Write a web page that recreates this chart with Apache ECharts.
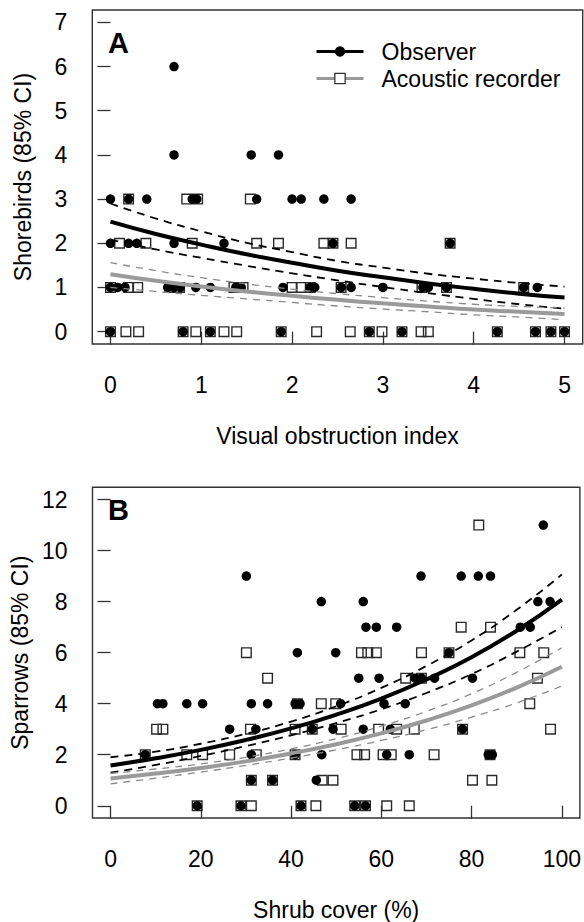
<!DOCTYPE html>
<html><head><meta charset="utf-8">
<script src="https://cdn.jsdelivr.net/npm/echarts@6/dist/echarts.min.js"></script>
<style>html,body{margin:0;padding:0;background:#fff}#c{width:584px;height:922px}</style>
</head><body><div id="c"></div>
<script>
const FONT = "'Liberation Sans', Arial, Helvetica, sans-serif";

// ---------- Panel A : Shorebirds vs Visual obstruction index ----------
const ticksAx = [0, 1, 2, 3, 4, 5];
const ticksAy = [0, 1, 2, 3, 4, 5, 6, 7];
const obsA = [
  [0.0,0],[0.80,0],[1.10,0],[1.88,0],[2.85,0],[3.21,0],[4.26,0],[4.68,0],[4.85,0],[5.0,0],
  [0.0,1],[0.08,1],[0.16,1],[0.63,1],[0.70,1],[0.77,1],[0.94,1],[1.10,1],[1.38,1],[1.44,1],[1.90,1],
  [2.20,1],[2.25,1],[2.54,1],[2.65,1],[3.0,1],[3.44,1],[3.50,1],[3.70,1],[4.55,1],[4.70,1],
  [0.0,2],[0.20,2],[0.29,2],[0.70,2],[1.25,2],[2.45,2],[3.74,2],
  [0.0,3],[0.20,3],[0.40,3],[0.90,3],[0.95,3],[1.61,3],[2.0,3],[2.10,3],[2.35,3],[2.65,3],
  [0.70,4],[1.55,4],[1.85,4],
  [0.70,6]
];
const acA = [
  [0.0,0],[0.17,0],[0.31,0],[0.80,0],[0.94,0],[1.10,0],[1.25,0],[1.39,0],[1.88,0],[2.27,0],
  [2.64,0],[2.85,0],[2.99,0],[3.21,0],[3.42,0],[3.50,0],[4.26,0],[4.68,0],[4.85,0],[5.0,0],
  [0.0,1],[0.20,1],[0.30,1],[0.65,1],[0.76,1],[1.36,1],[1.46,1],[2.0,1],[2.10,1],[2.20,1],
  [2.54,1],[3.43,1],[3.70,1],[4.55,1],
  [0.10,2],[0.39,2],[0.90,2],[1.61,2],[1.85,2],[2.35,2],[2.45,2],[2.65,2],[3.74,2],
  [0.20,3],[0.84,3],[0.96,3],[1.54,3]
];
const curveAx = [0, 0.5, 1, 1.5, 2, 2.5, 3, 3.5, 4, 4.5, 5];
const obsFitA = [2.49, 2.21, 1.97, 1.75, 1.56, 1.38, 1.23, 1.09, 0.97, 0.86, 0.77];
const obsUpA  = [2.90, 2.56, 2.27, 2.01, 1.80, 1.60, 1.45, 1.31, 1.20, 1.10, 1.02];
const obsLoA  = [2.08, 1.86, 1.67, 1.49, 1.32, 1.16, 1.01, 0.87, 0.74, 0.62, 0.52];
const acFitA  = [1.30, 1.15, 1.02, 0.91, 0.81, 0.72, 0.64, 0.57, 0.50, 0.45, 0.40];
const acUpA   = [1.56, 1.38, 1.22, 1.08, 0.96, 0.86, 0.77, 0.69, 0.62, 0.57, 0.53];
const acLoA   = [1.00, 0.91, 0.82, 0.74, 0.66, 0.58, 0.51, 0.45, 0.38, 0.33, 0.27];

// ---------- Panel B : Sparrows vs Shrub cover ----------
const ticksBx = [0, 20, 40, 60, 80, 100];
const ticksBy = [0, 2, 4, 6, 8, 10, 12];
const obsB = [
  [19.2,0],[28.9,0],[42.2,0],[54.1,0],[56.5,0],
  [31.2,1],[35.9,1],[45.6,1],
  [7.7,2],[31.2,2],[40.9,2],[46.8,2],[61.2,2],[66.2,2],[83.7,2],[84.6,2],
  [26.4,3],[32.2,3],[44.7,3],[49.3,3],[56.0,3],[62.0,3],[78.0,3],
  [10.4,4],[11.6,4],[16.9,4],[20.4,4],[31.2,4],[34.8,4],[40.9,4],[42.0,4],[51.0,4],[60.6,4],[65.3,4],
  [55.0,5],[59.5,5],[67.5,5],[68.9,5],[71.8,5],[80.2,5],
  [41.4,6],[49.9,6],[75.0,6],
  [56.6,7],[58.9,7],[63.4,7],[90.8,7],[93.0,7],
  [46.7,8],[56.0,8],[94.7,8],[97.4,8],
  [30.1,9],[68.8,9],[77.7,9],[81.5,9],[84.2,9],
  [95.9,11]
];
const acB = [
  [19.2,0],[28.9,0],[31.2,0],[42.2,0],[45.5,0],[54.1,0],[56.5,0],[61.2,0],[66.2,0],
  [31.2,1],[35.9,1],[46.9,1],[49.3,1],[80.2,1],[84.5,1],
  [7.7,2],[16.9,2],[20.4,2],[26.4,2],[32.3,2],[40.9,2],[54.6,2],[56.3,2],[60.4,2],[62.2,2],[71.7,2],[84.1,2],
  [10.2,3],[11.6,3],[31.0,3],[40.9,3],[44.7,3],[51.1,3],[59.4,3],[63.4,3],[67.3,3],[78.0,3],[97.5,3],
  [41.4,4],[46.7,4],[49.9,4],[92.9,4],
  [34.8,5],[65.4,5],[68.9,5],[94.6,5],
  [30.1,6],[55.6,6],[57.0,6],[58.9,6],[68.9,6],[75.0,6],[90.7,6],[96.0,6],
  [77.7,7],[84.2,7],
  [81.6,11]
];
const curveBx = [0, 10, 20, 30, 40, 50, 60, 70, 80, 90, 100];
const obsFitB = [1.58, 1.86, 2.19, 2.58, 3.03, 3.57, 4.20, 4.95, 5.82, 6.86, 8.08];
const obsUpB  = [1.90, 2.12, 2.43, 2.82, 3.30, 3.90, 4.62, 5.48, 6.48, 7.68, 9.06];
const obsLoB  = [1.30, 1.60, 1.95, 2.34, 2.76, 3.24, 3.78, 4.42, 5.16, 6.04, 7.00];
const acFitB  = [1.07, 1.26, 1.48, 1.74, 2.05, 2.41, 2.84, 3.34, 3.93, 4.63, 5.45];
const acUpB   = [1.27, 1.44, 1.64, 1.90, 2.23, 2.63, 3.12, 3.70, 4.39, 5.23, 6.19];
const acLoB   = [0.86, 1.08, 1.32, 1.58, 1.87, 2.19, 2.56, 2.98, 3.47, 4.03, 4.69];

const legendNames = ['Observer', 'Acoustic recorder'];

function pairs(xs, ys) { return xs.map((x, i) => [x, ys[i]]); }

const AXC = '#333';
const txt = { fontSize: 23, color: '#000', fontFamily: FONT };

function xAxisDef(g, min, max, ticks, name) {
  return {
    gridIndex: g, type: 'value', min: min, max: max,
    axisLine: { show: false }, splitLine: { show: false },
    axisTick: { show: true, length: 13, customValues: ticks, lineStyle: { color: AXC, width: 1.3 } },
    axisLabel: Object.assign({ customValues: ticks, margin: 29 }, txt),
    name: name, nameLocation: 'middle', nameGap: 80, nameTextStyle: txt
  };
}
function yAxisDef(g, min, max, ticks, name) {
  return {
    gridIndex: g, type: 'value', min: min, max: max,
    axisLine: { show: false }, splitLine: { show: false },
    axisTick: { show: true, length: 13, customValues: ticks, lineStyle: { color: AXC, width: 1.3 } },
    axisLabel: Object.assign({ customValues: ticks, margin: 25 }, txt),
    name: name, nameLocation: 'middle', nameGap: 58, nameTextStyle: txt
  };
}

function lineS(g, xs, ys, color, width, dash, name, sym) {
  return {
    type: 'line', name: name, xAxisIndex: g, yAxisIndex: g,
    data: pairs(xs, ys), smooth: true, showSymbol: false,
    symbol: sym || 'none', silent: true, z: 4,
    lineStyle: { color: color, width: width, type: dash || 'solid', cap: 'butt', opacity: 1 },
    itemStyle: { color: color }
  };
}
function squares(g, data, name) {
  return {
    type: 'scatter', name: name, xAxisIndex: g, yAxisIndex: g, data: data,
    symbol: 'rect', symbolSize: 9.6, silent: true, z: 2,
    itemStyle: { color: 'rgba(0,0,0,0)', borderColor: '#2a2a2a', borderWidth: 1.4, opacity: 1 }
  };
}
function dots(g, data, name) {
  return {
    type: 'scatter', name: name, xAxisIndex: g, yAxisIndex: g, data: data,
    symbol: 'circle', symbolSize: 9.5, silent: true, z: 3,
    itemStyle: { color: '#000', opacity: 1 }
  };
}

const GRAYL = '#9a9a9a', GRAYD = '#8a8a8a';

const option = {
  animation: false,
  backgroundColor: '#fff',
  title: [
    { text: 'A', left: 108, top: 28, padding: 0, textStyle: { fontSize: 29, fontWeight: 'bold', color: '#000', fontFamily: FONT } },
    { text: 'B', left: 108, top: 495, padding: 0, textStyle: { fontSize: 29, fontWeight: 'bold', color: '#000', fontFamily: FONT } }
  ],
  legend: {
    orient: 'vertical', left: 315, top: 40, padding: 0,
    itemWidth: 47, itemHeight: 13, itemGap: 4, selectedMode: false,
    data: [
      { name: legendNames[0], itemStyle: { color: '#000' }, lineStyle: { color: '#000', width: 3 } },
      { name: legendNames[1], itemStyle: { color: '#fff', borderColor: '#333', borderWidth: 1.3 }, lineStyle: { color: GRAYL, width: 3 } }
    ],
    textStyle: Object.assign({ padding: [0, 0, 0, 13] }, txt)
  },
  grid: [
    { left: 92.3, top: 10, width: 490.4, height: 334, show: true, borderColor: AXC, borderWidth: 1.4, backgroundColor: 'rgba(0,0,0,0)' },
    { left: 92.3, top: 487.3, width: 490.4, height: 334.4, show: true, borderColor: AXC, borderWidth: 1.4, backgroundColor: 'rgba(0,0,0,0)' }
  ],
  xAxis: [
    xAxisDef(0, -0.2, 5.2, ticksAx, 'Visual obstruction index'),
    xAxisDef(1, -4, 104, ticksBx, 'Shrub cover (%)')
  ],
  yAxis: [
    yAxisDef(0, -0.28, 7.28, ticksAy, 'Shorebirds (85% CI)'),
    yAxisDef(1, -0.48, 12.48, ticksBy, 'Sparrows (85% CI)')
  ],
  series: [
    squares(0, acA, 'acA'), dots(0, obsA, 'obsA'),
    lineS(0, curveAx, obsUpA, '#000', 1.8, [8, 6]),
    lineS(0, curveAx, obsLoA, '#000', 1.8, [8, 6]),
    lineS(0, curveAx, acUpA, GRAYD, 1.3, [7, 6]),
    lineS(0, curveAx, acLoA, GRAYD, 1.3, [7, 6]),
    lineS(0, curveAx, acFitA, GRAYL, 4, 'solid', legendNames[1], 'rect'),
    lineS(0, curveAx, obsFitA, '#000', 4, 'solid', legendNames[0], 'circle'),

    squares(1, acB, 'acB'), dots(1, obsB, 'obsB'),
    lineS(1, curveBx, obsUpB, '#000', 1.8, [8, 6]),
    lineS(1, curveBx, obsLoB, '#000', 1.8, [8, 6]),
    lineS(1, curveBx, acUpB, GRAYD, 1.3, [7, 6]),
    lineS(1, curveBx, acLoB, GRAYD, 1.3, [7, 6]),
    lineS(1, curveBx, acFitB, GRAYL, 4, 'solid', 'acFitB'),
    lineS(1, curveBx, obsFitB, '#000', 4, 'solid', 'obsFitB')
  ]
};

const chart = echarts.init(document.getElementById('c'), null, { renderer: 'svg', width: 584, height: 922 });
chart.setOption(option);
</script>
</body></html>
